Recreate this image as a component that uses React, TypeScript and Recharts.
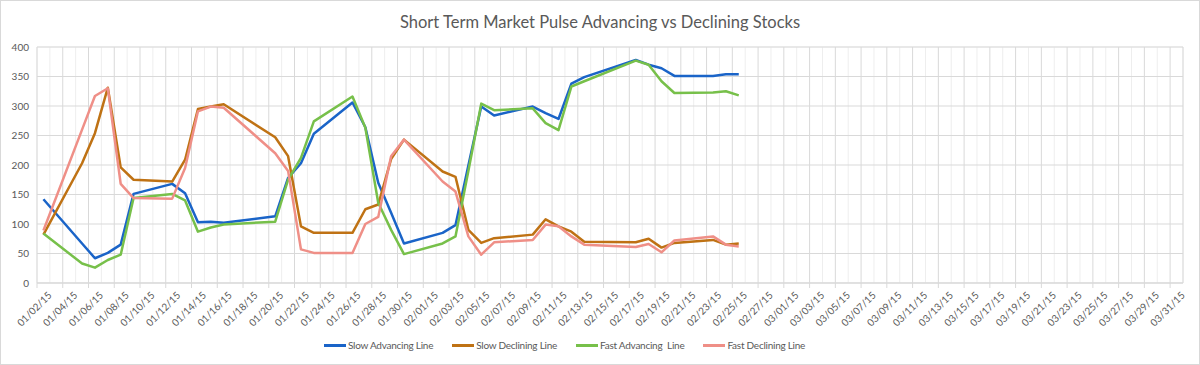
import { LineChart, Line, XAxis, YAxis, CartesianGrid, Legend } from 'recharts';

const FONT = 'Lato, "Open Sans", sans-serif';
const TEXT = '#595959';

// trading days in the sheet
const DATES = [
  '01/02/15', '01/05/15', '01/06/15', '01/07/15', '01/08/15', '01/09/15',
  '01/12/15', '01/13/15', '01/14/15', '01/15/15', '01/16/15', '01/20/15',
  '01/21/15', '01/22/15', '01/23/15', '01/26/15', '01/27/15', '01/28/15',
  '01/29/15', '01/30/15', '02/02/15', '02/03/15', '02/04/15', '02/05/15',
  '02/06/15', '02/09/15', '02/10/15', '02/11/15', '02/12/15', '02/13/15',
  '02/17/15', '02/18/15', '02/19/15', '02/20/15', '02/23/15', '02/24/15',
  '02/25/15',
];

const SLOW_ADV = [
  142, 67, 42, 51, 65, 151, 168, 152, 103, 104, 102, 113, 178, 203, 253, 306, 264, 170, 119,
  67, 85, 98, 199, 299, 284, 299, 288, 278, 338, 349, 378, 370, 364, 351, 351, 354, 354,
];
const SLOW_DEC = [
  82, 203, 254, 331, 196, 175, 172, 209, 295, 299, 303, 247, 215, 96, 85, 85, 125, 133, 210,
  243, 189, 180, 90, 68, 76, 82, 108, 96, 87, 70, 69, 75, 60, 68, 73, 65, 67,
];
const FAST_ADV = [
  84, 33, 26, 39, 48, 144, 151, 140, 87, 94, 99, 104, 175, 212, 274, 316, 263, 136, 90,
  49, 67, 79, 190, 304, 293, 296, 271, 259, 333, 342, 377, 370, 342, 322, 323, 325, 318,
];
const FAST_DEC = [
  89, 260, 317, 330, 168, 144, 143, 195, 291, 299, 297, 220, 190, 57, 51, 51, 100, 112, 215,
  243, 172, 155, 79, 48, 69, 73, 99, 96, 79, 65, 61, 66, 52, 72, 79, 65, 62,
];

const X_TICK_LABELS = [
  '01/02/15', '01/04/15', '01/06/15', '01/08/15', '01/10/15', '01/12/15', '01/14/15', '01/16/15',
  '01/18/15', '01/20/15', '01/22/15', '01/24/15', '01/26/15', '01/28/15', '01/30/15',
  '02/01/15', '02/03/15', '02/05/15', '02/07/15', '02/09/15', '02/11/15', '02/13/15', '02/15/15',
  '02/17/15', '02/19/15', '02/21/15', '02/23/15', '02/25/15', '02/27/15',
  '03/01/15', '03/03/15', '03/05/15', '03/07/15', '03/09/15', '03/11/15', '03/13/15', '03/15/15',
  '03/17/15', '03/19/15', '03/21/15', '03/23/15', '03/25/15', '03/27/15', '03/29/15', '03/31/15',
];
const Y_TICKS = [0, 50, 100, 150, 200, 250, 300, 350, 400];

const SERIES = [
  { key: 'slowAdv', name: 'Slow Advancing Line', color: '#1a64c8' },
  { key: 'slowDec', name: 'Slow Declining Line', color: '#bf7214' },
  { key: 'fastAdv', name: 'Fast Advancing  Line', color: '#77c04a' },
  { key: 'fastDec', name: 'Fast Declining Line', color: '#ef8f87' },
];

const START = Date.UTC(2015, 0, 2);
const dayIndex = (s: string) => {
  const [m, d, y] = s.split('/').map(Number);
  return Math.round((Date.UTC(2000 + y, m - 1, d) - START) / 86400000);
};

const LAST_DAY = dayIndex(X_TICK_LABELS[X_TICK_LABELS.length - 1]) + 1;
const X_TICKS = X_TICK_LABELS.map(dayIndex);
const X_MINOR = Array.from({ length: LAST_DAY + 1 }, (_, i) => i);
const Y_MINOR = Array.from({ length: 41 }, (_, i) => i * 10);

// points sit in the middle of their day slot
const rows = DATES.map((d, i) => ({
  x: dayIndex(d) + 0.5,
  slowAdv: SLOW_ADV[i],
  slowDec: SLOW_DEC[i],
  fastAdv: FAST_ADV[i],
  fastDec: FAST_DEC[i],
}));

const W = 1198;
const H = 363;
const HALF_DAY = (W - 36 - 16) / LAST_DAY / 2;

function DateTick(props: any) {
  const { x, y, payload } = props;
  const label = X_TICK_LABELS[X_TICKS.indexOf(payload.value)] ?? '';
  return (
    <g transform={`translate(${x + HALF_DAY + 9},${y + 6})`}>
      <text textAnchor="end" transform="rotate(-45)" fontSize={10} fill={TEXT} fontFamily={FONT}>
        {label}
      </text>
    </g>
  );
}

function LegendBox() {
  return (
    <div style={{ display: 'flex', alignItems: 'center', fontFamily: FONT, fontSize: 10, letterSpacing: -0.25, color: TEXT }}>
      {SERIES.map((s) => (
        <div key={s.key} style={{ display: 'flex', alignItems: 'center', marginRight: 19, whiteSpace: 'pre' }}>
          <span style={{ display: 'inline-block', width: 22, height: 3, background: s.color, marginRight: 2 }} />
          {s.name}
        </div>
      ))}
    </div>
  );
}

export default function App() {
  return (
    <div
      style={{
        position: 'absolute',
        left: 0,
        top: 0,
        width: 1200,
        height: 365,
        boxSizing: 'border-box',
        border: '1px solid #d9d9d9',
        background: '#fff',
      }}
    >
      <div
        style={{
          position: 'absolute',
          top: 11,
          left: 0,
          width: W,
          textAlign: 'center',
          fontFamily: FONT,
          fontSize: 16.5,
          color: TEXT,
        }}
      >
        Short Term Market Pulse Advancing vs Declining Stocks
      </div>
      <LineChart width={W} height={H} data={rows} margin={{ top: 46, right: 16, bottom: 0, left: 0 }}>
        <XAxis xAxisId="minor" type="number" dataKey="x" domain={[0, LAST_DAY]} ticks={X_MINOR} hide />
        <YAxis yAxisId="minor" type="number" domain={[0, 400]} ticks={Y_MINOR} hide />
        <CartesianGrid xAxisId="minor" yAxisId="minor" stroke="#eeeeee" strokeWidth={1} />
        <CartesianGrid stroke="#d9d9d9" strokeWidth={1} />
        <XAxis
          type="number"
          dataKey="x"
          domain={[0, LAST_DAY]}
          ticks={X_TICKS}
          interval={0}
          height={81}
          axisLine={{ stroke: '#d9d9d9' }}
          tickLine={{ stroke: '#d9d9d9' }}
          tickSize={5}
          tick={<DateTick />}
        />
        <YAxis
          type="number"
          domain={[0, 400]}
          ticks={Y_TICKS}
          interval={0}
          width={36}
          axisLine={false}
          tickLine={false}
          tickMargin={2}
          tick={{ fontSize: 10, fill: TEXT, fontFamily: FONT }}
        />
        {SERIES.map((s) => (
          <Line
            key={s.key}
            type="linear"
            dataKey={s.key}
            name={s.name}
            stroke={s.color}
            strokeWidth={2.5}
            strokeLinejoin="round"
            dot={false}
            activeDot={false}
            isAnimationActive={false}
          />
        ))}
        <Legend
          verticalAlign="middle"
          layout="horizontal"
          content={<LegendBox />}
          wrapperStyle={{ top: 338, left: 323, width: 560 }}
        />
      </LineChart>
    </div>
  );
}
